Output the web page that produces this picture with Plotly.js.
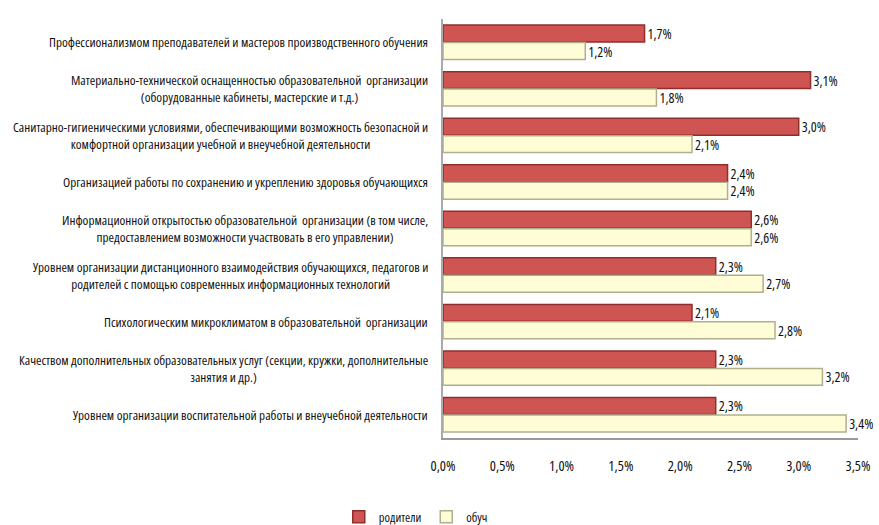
<!DOCTYPE html>
<html><head><meta charset="utf-8">
<script src="https://cdn.plot.ly/plotly-3.0.1.min.js"></script>
<style>html,body{margin:0;padding:0;background:#fff;}#chart{width:879px;height:525px;}
text, tspan{font-stretch:condensed !important;}</style>
</head><body><div id="chart"></div>
<script>
const categories = [
  "Профессионализмом преподавателей и мастеров производственного обучения",
  "Материально-технической оснащенностью образовательной  организации<br>(оборудованные кабинеты, мастерские и т.д.)",
  "Санитарно-гигиеническими условиями, обеспечивающими возможность безопасной и<br>комфортной организации учебной и внеучебной деятельности",
  "Организацией работы по сохранению и укреплению здоровья обучающихся",
  "Информационной открытостью образовательной  организации (в том числе,<br>предоставлением возможности участвовать в его управлении)",
  "Уровнем организации дистанционного взаимодействия обучающихся, педагогов и<br>родителей с помощью современных информационных технологий",
  "Психологическим микроклиматом в образовательной  организации",
  "Качеством дополнительных образовательных услуг (секции, кружки, дополнительные<br>занятия и др.)",
  "Уровнем организации воспитательной работы и внеучебной деятельности"
];
const parents = [1.7, 3.1, 3.0, 2.4, 2.6, 2.3, 2.1, 2.3, 2.3];
const students = [1.2, 1.8, 2.1, 2.4, 2.6, 2.7, 2.8, 3.2, 3.4];
const seriesNames = ["родители", "обуч"];
const tickVals = [0, 0.5, 1.0, 1.5, 2.0, 2.5, 3.0, 3.5];

const fmt = v => v.toFixed(1).replace('.', ',') + '%';
const FONT = "'Open Sans', 'Roboto Condensed', sans-serif";

const traces = [
  {type:'bar', orientation:'h', name:seriesNames[0], y:categories, x:parents,
   text:parents.map(fmt), textposition:'outside', cliponaxis:false, constraintext:'none',
   textfont:{family:FONT, size:14, color:'#111'},
   marker:{color:'#cf5552', line:{color:'#8f2f2d', width:1.5}}, hoverinfo:'x'},
  {type:'bar', orientation:'h', name:seriesNames[1], y:categories, x:students,
   text:students.map(fmt), textposition:'outside', cliponaxis:false, constraintext:'none',
   textfont:{family:FONT, size:14, color:'#111'},
   marker:{color:'#fefdd6', line:{color:'#b0b08e', width:1.5}}, hoverinfo:'x'}
];

const annotations = categories.map(c => ({
  xref:'paper', yref:'y', x:0, y:c, xanchor:'right', yanchor:'middle',
  xshift:-13, text:c, showarrow:false, align:'center',
  font:{family:FONT, size:13.2, color:'#111'}
}));

const layout = {
  width:879, height:525,
  margin:{l:443, r:21, t:19, b:87},
  paper_bgcolor:'#fff', plot_bgcolor:'#fff',
  barmode:'group', bargap:0.25, bargroupgap:0.03,
  font:{family:FONT, size:13, color:'#111'},
  xaxis:{range:[0,3.5], tickvals:tickVals, ticktext:tickVals.map(fmt),
         showgrid:false, zeroline:false, showline:true, linecolor:'#999', linewidth:2,
         ticks:'', ticklabelstandoff:14, tickfont:{family:FONT, size:14.5, color:'#111'}},
  yaxis:{autorange:'reversed', showticklabels:false, showgrid:false, zeroline:false,
         showline:true, linecolor:'#aaa', linewidth:2, ticks:''},
  showlegend:true,
  legend:{orientation:'h', xref:'container', yref:'container', x:0.473, y:0.015,
          xanchor:'center', yanchor:'middle', font:{family:FONT, size:12.5, color:'#111'},
          itemwidth:30, tracegroupgap:0},
  annotations:annotations
};
Plotly.newPlot('chart', traces, layout, {displayModeBar:false});
</script></body></html>
